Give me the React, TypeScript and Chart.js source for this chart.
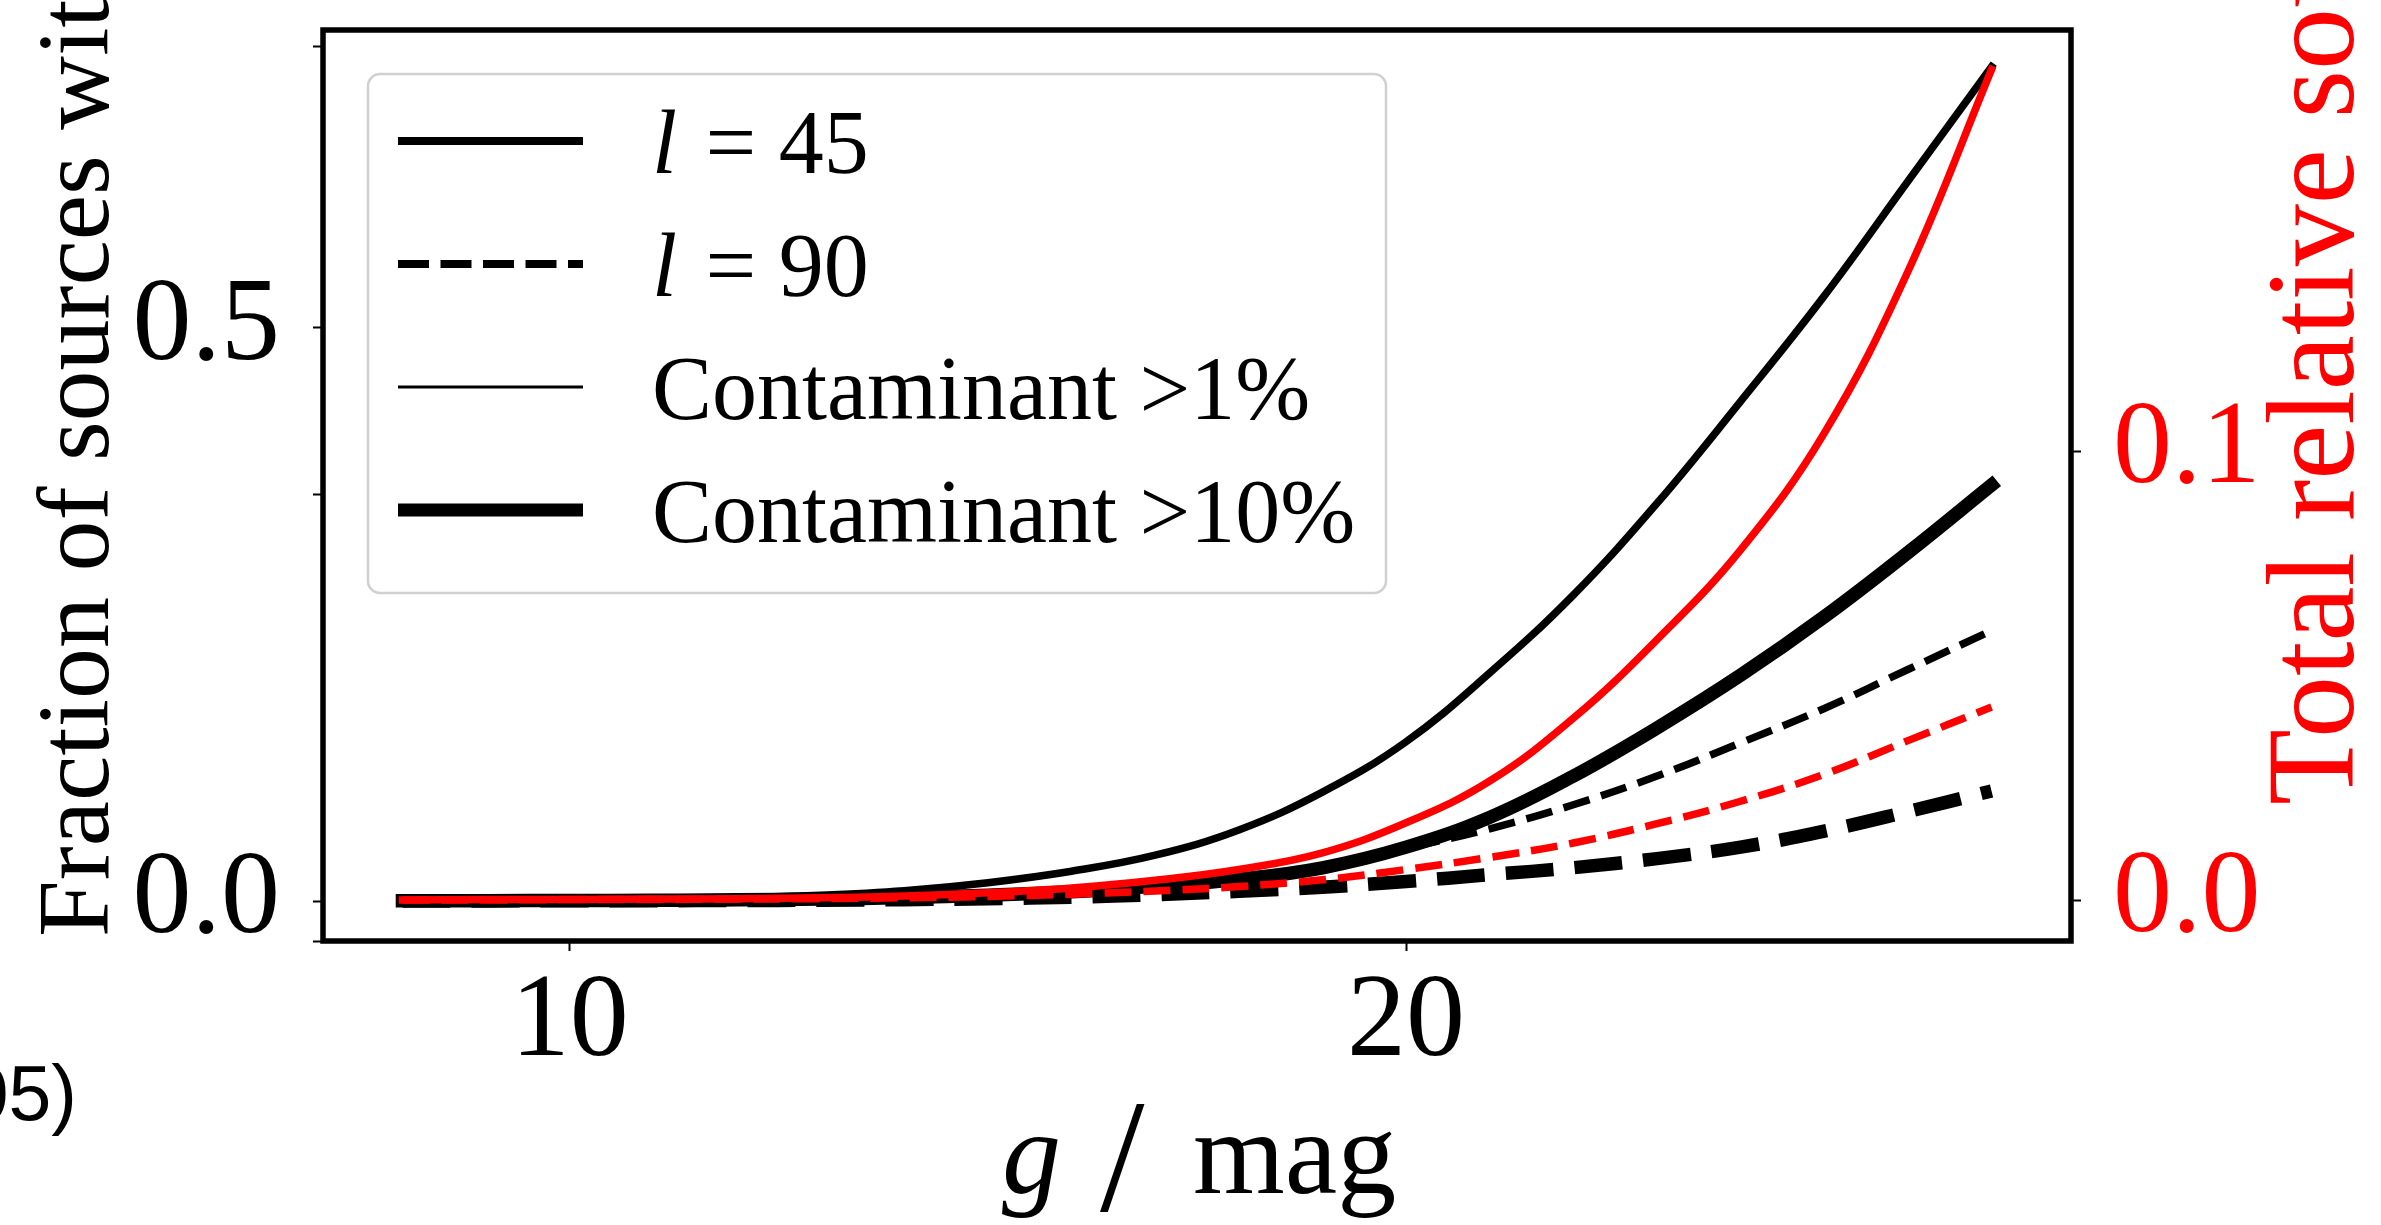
import React, { useEffect, useRef } from "react";
import { Chart, registerables } from "chart.js";

Chart.register(...registerables);

// ---------------- data ----------------
const magnitudes = [8, 9, 10, 11, 12, 13, 14, 15, 16, 17, 18, 19, 20, 21, 22, 23, 24, 25, 26, 27];

// fraction of sources with contaminant (left axis)
const fracL45Above1 = [0.0005, 0.0008, 0.0012, 0.0018, 0.003, 0.005, 0.009, 0.016, 0.026, 0.04, 0.062, 0.095, 0.139, 0.199, 0.267, 0.347, 0.436, 0.528, 0.628, 0.728];
const fracL45Above10 = [0.0002, 0.0003, 0.0004, 0.0006, 0.001, 0.0017, 0.003, 0.005, 0.008, 0.013, 0.019, 0.029, 0.047, 0.073, 0.109, 0.151, 0.197, 0.248, 0.304, 0.363];
const fracL90Above1 = [0.0002, 0.0003, 0.0005, 0.0008, 0.0013, 0.002, 0.0029, 0.0045, 0.0075, 0.012, 0.019, 0.03, 0.046, 0.063, 0.084, 0.109, 0.138, 0.168, 0.202, 0.236];
const fracL90Above10 = [0.0001, 0.0001, 0.0002, 0.0003, 0.0004, 0.0007, 0.0012, 0.002, 0.0033, 0.0055, 0.0085, 0.012, 0.017, 0.023, 0.029, 0.037, 0.047, 0.061, 0.078, 0.096];

// total relative source contamination (right axis)
const totalL45 = [0.0, 0.0001, 0.0001, 0.0002, 0.0003, 0.0005, 0.0009, 0.0016, 0.0027, 0.0044, 0.0068, 0.0105, 0.0172, 0.0265, 0.0405, 0.058, 0.078, 0.104, 0.14, 0.185];
const totalL90 = [0.0, 0.0, 0.0001, 0.0001, 0.0002, 0.0003, 0.0005, 0.0008, 0.0013, 0.002, 0.003, 0.0045, 0.0068, 0.0095, 0.0127, 0.017, 0.022, 0.028, 0.0355, 0.043];

// ticks
const xTickValues = [10, 20];
const leftTickValues = [0, 0.5];
const leftUnlabeledTicks = [-0.0349, 0.3551, 0.7452];
const rightTickValues = [0, 0.1];

// texts
const legendLabels = ["l = 45", "l = 90", "Contaminant >1%", "Contaminant >10%"];
const leftTitle = "Fraction of sources with";
const rightTitle = "Total relative source";
const xTitleItalic = "g";
const xTitleRest = "mag";
const cornerFragment = "05)";

// ---------------- styles ----------------
const SERIF = '"Liberation Serif", "Times New Roman", serif';
const legendStyles = [
  { width: 8, dash: [] as number[] },
  { width: 8, dash: [31, 11.5] },
  { width: 3, dash: [] as number[] },
  { width: 13, dash: [] as number[] },
];

const pts = (ys: number[]) => magnitudes.map((x, i) => ({ x, y: ys[i] }));

const decorPlugin = {
  id: "decor",
  afterDatasetsDraw(chart: any) {
    const { ctx, chartArea: a } = chart;
    ctx.save();
    // frame (spines)
    ctx.strokeStyle = "#000";
    ctx.lineWidth = 5.5;
    ctx.setLineDash([]);
    ctx.strokeRect(a.left, a.top, a.right - a.left, a.bottom - a.top);

    // legend box
    const bx = 368, by = 74, bw = 1018, bh = 519, r = 12;
    ctx.beginPath();
    ctx.moveTo(bx + r, by);
    ctx.lineTo(bx + bw - r, by);
    ctx.arcTo(bx + bw, by, bx + bw, by + r, r);
    ctx.lineTo(bx + bw, by + bh - r);
    ctx.arcTo(bx + bw, by + bh, bx + bw - r, by + bh, r);
    ctx.lineTo(bx + r, by + bh);
    ctx.arcTo(bx, by + bh, bx, by + bh - r, r);
    ctx.lineTo(bx, by + r);
    ctx.arcTo(bx, by, bx + r, by, r);
    ctx.closePath();
    ctx.fillStyle = "rgba(255,255,255,0.8)";
    ctx.fill();
    ctx.strokeStyle = "#d0d0d0";
    ctx.lineWidth = 2.5;
    ctx.stroke();

    const rowY = [141, 264, 387, 510];
    const fontSize = 90;
    legendLabels.forEach((label, i) => {
      const st = legendStyles[i];
      const y = rowY[i];
      ctx.beginPath();
      ctx.strokeStyle = "#000";
      ctx.lineWidth = st.width;
      ctx.lineCap = "butt";
      ctx.setLineDash(st.dash);
      ctx.moveTo(398, y);
      ctx.lineTo(583, y);
      ctx.stroke();
      ctx.setLineDash([]);
      ctx.fillStyle = "#000";
      ctx.textAlign = "left";
      ctx.textBaseline = "alphabetic";
      const base = y + 32;
      if (label.startsWith("l ")) {
        ctx.font = `italic ${fontSize}px ${SERIF}`;
        ctx.fillText("l", 652, base);
        const w = ctx.measureText("l").width;
        ctx.font = `${fontSize}px ${SERIF}`;
        ctx.fillText(label.slice(1), 652 + w + 6, base);
      } else {
        ctx.font = `${fontSize}px ${SERIF}`;
        ctx.fillText(label, 652, base);
      }
    });
    ctx.restore();
  },
  afterDraw(chart: any) {
    const { ctx } = chart;
    ctx.save();
    ctx.textAlign = "left";
    ctx.textBaseline = "alphabetic";
    // left title
    ctx.save();
    ctx.translate(108, 937);
    ctx.rotate(-Math.PI / 2);
    ctx.font = `102px ${SERIF}`;
    ctx.fillStyle = "#000";
    ctx.fillText(leftTitle, 0, 0);
    ctx.restore();
    // right title
    ctx.save();
    ctx.translate(2353, 805);
    ctx.rotate(-Math.PI / 2);
    ctx.font = `124px ${SERIF}`;
    ctx.fillStyle = "#ff0000";
    ctx.fillText(rightTitle, 0, 0);
    ctx.restore();
    // x title
    ctx.fillStyle = "#000";
    ctx.font = `italic 118px ${SERIF}`;
    ctx.fillText(xTitleItalic, 1002, 1193);
    ctx.font = `160px ${SERIF}`;
    ctx.fillText("/", 1100, 1210);
    ctx.font = `118px ${SERIF}`;
    ctx.fillText(xTitleRest, 1193, 1193);
    // corner fragment
    ctx.font = `77px "Liberation Sans", Arial, sans-serif`;
    ctx.textAlign = "right";
    ctx.fillText(cornerFragment, 77, 1120);
    ctx.restore();
  },
};

export default function App() {
  const ref = useRef<HTMLCanvasElement>(null);
  useEffect(() => {
    const canvas = ref.current!;
    const tickFont = { family: SERIF, size: 118 };
    const tickGrid = {
      drawOnChartArea: false,
      drawTicks: true,
      tickLength: 10,
      tickWidth: 2,
      tickColor: "#000",
    };
    const common = {
      pointRadius: 0,
      tension: 0.4,
      fill: false,
      borderJoinStyle: "round" as const,
    };
    const chart = new Chart(canvas, {
      type: "line",
      data: {
        datasets: [
          { ...common, label: "total l=45", data: pts(totalL45), yAxisID: "yR", borderColor: "#ff0000", borderWidth: 7.5, borderCapStyle: "square" },
          { ...common, label: "total l=90", data: pts(totalL90), yAxisID: "yR", borderColor: "#ff0000", borderWidth: 7.5, borderDash: [27, 12], borderCapStyle: "butt" },
          { ...common, label: "l=45 >1%", data: pts(fracL45Above1), yAxisID: "y", borderColor: "#000", borderWidth: 7.5, borderCapStyle: "square" },
          { ...common, label: "l=90 >1%", data: pts(fracL90Above1), yAxisID: "y", borderColor: "#000", borderWidth: 7.5, borderDash: [27, 12], borderCapStyle: "butt" },
          { ...common, label: "l=45 >10%", data: pts(fracL45Above10), yAxisID: "y", borderColor: "#000", borderWidth: 13.5, borderCapStyle: "square" },
          { ...common, label: "l=90 >10%", data: pts(fracL90Above10), yAxisID: "y", borderColor: "#000", borderWidth: 13.5, borderDash: [48, 21], borderCapStyle: "butt" },
        ],
      },
      options: {
        responsive: false,
        animation: false,
        devicePixelRatio: 1,
        layout: { padding: { top: 30, left: 0, right: 0, bottom: 0 } },
        plugins: { legend: { display: false }, tooltip: { enabled: false }, title: { display: false } },
        scales: {
          x: {
            type: "linear",
            position: "bottom",
            min: 7.05,
            max: 27.95,
            afterBuildTicks: (s: any) => {
              s.ticks = xTickValues.map((v) => ({ value: v }));
            },
            ticks: { font: tickFont, color: "#000", padding: 2, maxRotation: 0, autoSkip: false, callback: (v: any) => String(v) },
            grid: tickGrid,
            border: { display: false },
            afterFit: (s: any) => {
              s.height = 284;
              s.paddingLeft = 0;
              s.paddingRight = 0;
            },
          },
          y: {
            type: "linear",
            position: "left",
            min: -0.0349,
            max: 0.76,
            afterBuildTicks: (s: any) => {
              s.ticks = [...leftUnlabeledTicks, ...leftTickValues].sort((p, q) => p - q).map((v) => ({ value: v }));
            },
            ticks: {
              font: tickFont,
              color: "#000",
              padding: 33,
              autoSkip: false,
              callback: (v: any) => (leftTickValues.includes(v) ? Number(v).toFixed(1) : ""),
            },
            grid: tickGrid,
            border: { display: false },
            afterFit: (s: any) => {
              s.width = 323;
              s.paddingTop = 0;
              s.paddingBottom = 0;
            },
          },
          yR: {
            type: "linear",
            position: "right",
            min: -0.00913,
            max: 0.1938,
            afterBuildTicks: (s: any) => {
              s.ticks = rightTickValues.map((v) => ({ value: v }));
            },
            ticks: { font: tickFont, color: "#ff0000", padding: 32, autoSkip: false, callback: (v: any) => Number(v).toFixed(1) },
            grid: tickGrid,
            border: { display: false },
            afterFit: (s: any) => {
              s.width = 310;
              s.paddingTop = 0;
              s.paddingBottom = 0;
            },
          },
        },
      },
      plugins: [decorPlugin],
    } as any);
    return () => chart.destroy();
  }, []);
  return (
    <div style={{ position: "absolute", left: 0, top: 0, width: 2381, height: 1225, background: "#fff" }}>
      <canvas ref={ref} width={2381} height={1225} style={{ display: "block", width: 2381, height: 1225 }} />
    </div>
  );
}
